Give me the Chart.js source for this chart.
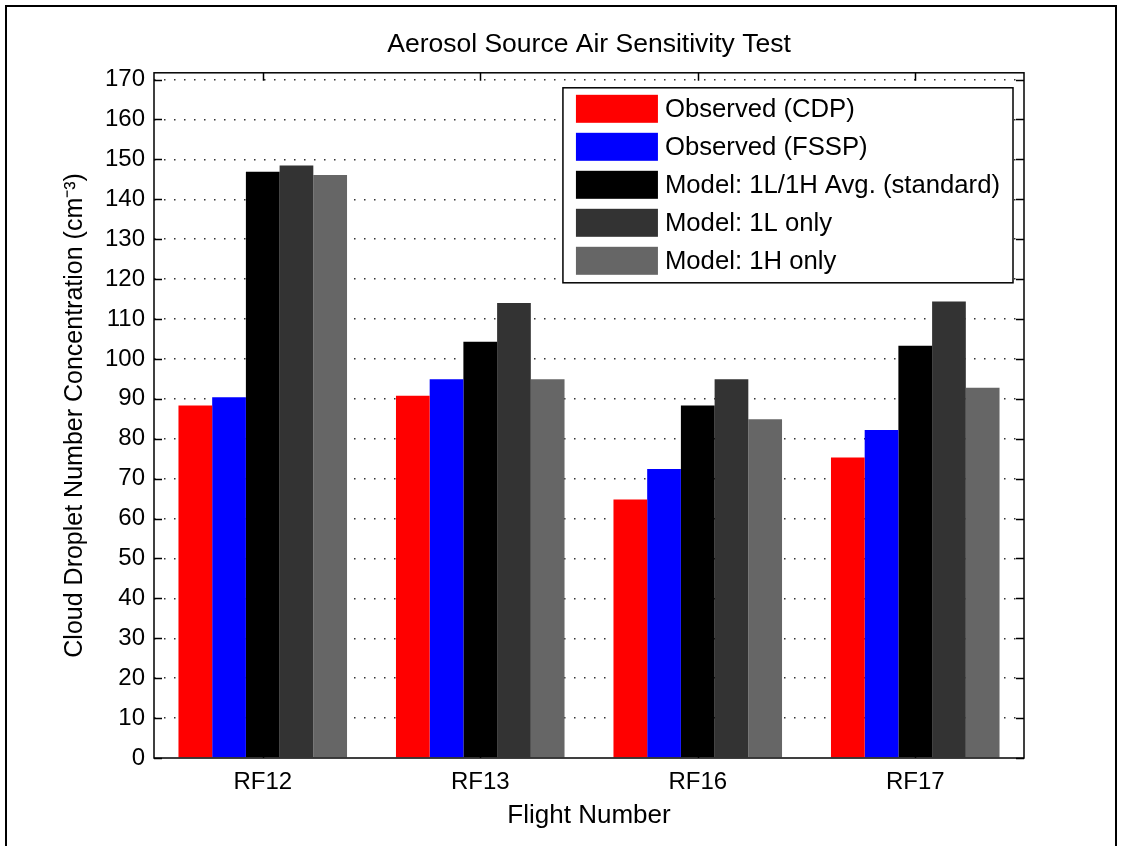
<!DOCTYPE html>
<html>
<head>
<meta charset="utf-8">
<script src="https://cdn.jsdelivr.net/npm/chart.js@4"></script>
<style>
html, body { margin: 0; padding: 0; background: #fff; }
#wrap { position: relative; width: 1122px; height: 846px; overflow: hidden; }
#frame { position: absolute; left: 5px; top: 5px; width: 1108px; height: 900px; border: 2px solid #000; pointer-events: none; }
canvas { position: absolute; left: 0; top: 0; }
</style>
</head>
<body>
<div id="wrap">
  <canvas id="chart" width="1122" height="846"></canvas>
  <div id="frame"></div>
</div>
<script>
const flights = ['RF12', 'RF13', 'RF16', 'RF17'];
const cdp = [88.3, 90.8, 64.8, 75.3];
const fssp = [90.4, 94.9, 72.4, 82.2];
const modelAvg = [146.9, 104.3, 88.3, 103.3];
const model1L = [148.5, 114.0, 94.9, 114.4];
const model1H = [146.1, 94.9, 84.9, 92.8];

const seriesLabels = [
  'Observed (CDP)',
  'Observed (FSSP)',
  'Model: 1L/1H Avg. (standard)',
  'Model: 1L only',
  'Model: 1H only',
];
const seriesColors = ['#ff0000', '#0000ff', '#000000', '#333333', '#666666'];
const yTicks = [0, 10, 20, 30, 40, 50, 60, 70, 80, 90, 100, 110, 120, 130, 140, 150, 160, 170];
const yMax = 171.7;

const FONT = '"Liberation Sans", Arial, sans-serif';

// axes box and inward tick marks, MATLAB style
const boxPlugin = {
  id: 'box',
  beforeDatasetsDraw(chart) {
    const { ctx, chartArea: a, scales } = chart;
    ctx.save();
    ctx.strokeStyle = '#000';
    ctx.lineWidth = 1.5;
    ctx.beginPath();
    yTicks.forEach((v) => {
      const y = Math.round(scales.y.getPixelForValue(v)) + 0.5;
      ctx.moveTo(a.left, y);
      ctx.lineTo(a.left + 8, y);
      ctx.moveTo(a.right, y);
      ctx.lineTo(a.right - 8, y);
    });
    flights.forEach((f, i) => {
      const x = Math.round(scales.x.getPixelForValue(i)) + 0.5;
      ctx.moveTo(x, a.top);
      ctx.lineTo(x, a.top + 8);
      ctx.moveTo(x, a.bottom);
      ctx.lineTo(x, a.bottom - 8);
    });
    ctx.stroke();
    ctx.restore();
  },
  afterDatasetsDraw(chart) {
    const { ctx, chartArea: a } = chart;
    ctx.save();
    ctx.strokeStyle = '#000';
    ctx.lineWidth = 1.5;
    ctx.strokeRect(a.left, a.top, a.right - a.left, a.bottom - a.top);
    ctx.restore();
  },
};

// boxed legend inside the top right corner of the axes
const legendPlugin = {
  id: 'boxLegend',
  afterDraw(chart) {
    const { ctx, chartArea: a } = chart;
    const sets = chart.data.datasets;
    ctx.save();
    ctx.font = `25.7px ${FONT}`;
    const textW = Math.max(...sets.map((d) => ctx.measureText(d.label).width));
    const w = 102 + textW + 13;
    const h = 7 + (sets.length - 1) * 38 + 28 + 8;
    const x0 = a.right - 11 - w;
    const y0 = a.top + 15;
    ctx.fillStyle = '#fff';
    ctx.fillRect(x0, y0, w, h);
    ctx.strokeStyle = '#000';
    ctx.lineWidth = 1.5;
    ctx.strokeRect(x0, y0, w, h);
    sets.forEach((d, i) => {
      const sy = y0 + 7 + i * 38;
      ctx.fillStyle = d.backgroundColor;
      ctx.fillRect(x0 + 13, sy, 82, 28);
      ctx.fillStyle = '#000';
      ctx.textBaseline = 'middle';
      ctx.textAlign = 'left';
      ctx.fillText(d.label, x0 + 102, sy + 15);
    });
    ctx.restore();
  },
};

const seriesData = [cdp, fssp, modelAvg, model1L, model1H];

new Chart(document.getElementById('chart'), {
  type: 'bar',
  data: {
    labels: flights,
    datasets: seriesData.map((vals, i) => ({
      label: seriesLabels[i],
      data: vals,
      backgroundColor: seriesColors[i],
      borderWidth: 0,
    })),
  },
  options: {
    responsive: false,
    animation: false,
    layout: { padding: { top: 0, right: 98, bottom: 0, left: 0 } },
    datasets: { bar: { categoryPercentage: 0.775, barPercentage: 1 } },
    plugins: {
      legend: { display: false },
      tooltip: { enabled: false },
      title: {
        display: true,
        fullSize: false,
        text: 'Aerosol Source Air Sensitivity Test',
        color: '#000',
        font: { family: FONT, size: 26.5, weight: 'normal' },
        padding: { top: 29, bottom: 12 },
      },
    },
    scales: {
      x: {
        offset: true,
        grid: { display: false, drawTicks: false },
        border: { display: false },
        ticks: { color: '#000', font: { family: FONT, size: 24 }, padding: 10 },
        title: {
          display: true,
          text: 'Flight Number',
          color: '#000',
          font: { family: FONT, size: 26 },
          padding: { top: 0, bottom: 15 },
        },
        afterFit(s) { s.height = 88; },
      },
      y: {
        min: 0,
        max: yMax,
        afterBuildTicks(s) { s.ticks = yTicks.map((v) => ({ value: v })); },
        grid: {
          drawTicks: false,
          color: (c) => (c.tick && c.tick.value === 0 ? 'rgba(0,0,0,0)' : '#333'),
          lineWidth: 1.5,
        },
        border: { display: false, dash: [1.5, 8.5] },
        ticks: { color: '#000', font: { family: FONT, size: 24 }, padding: 9 },
        title: {
          display: true,
          text: 'Cloud Droplet Number Concentration (cm⁻³)',
          color: '#000',
          font: { family: FONT, size: 25 },
          padding: { top: 60, bottom: 0 },
        },
        afterFit(s) { s.width = 154; },
      },
    },
  },
  plugins: [boxPlugin, legendPlugin],
});
</script>
</body>
</html>
